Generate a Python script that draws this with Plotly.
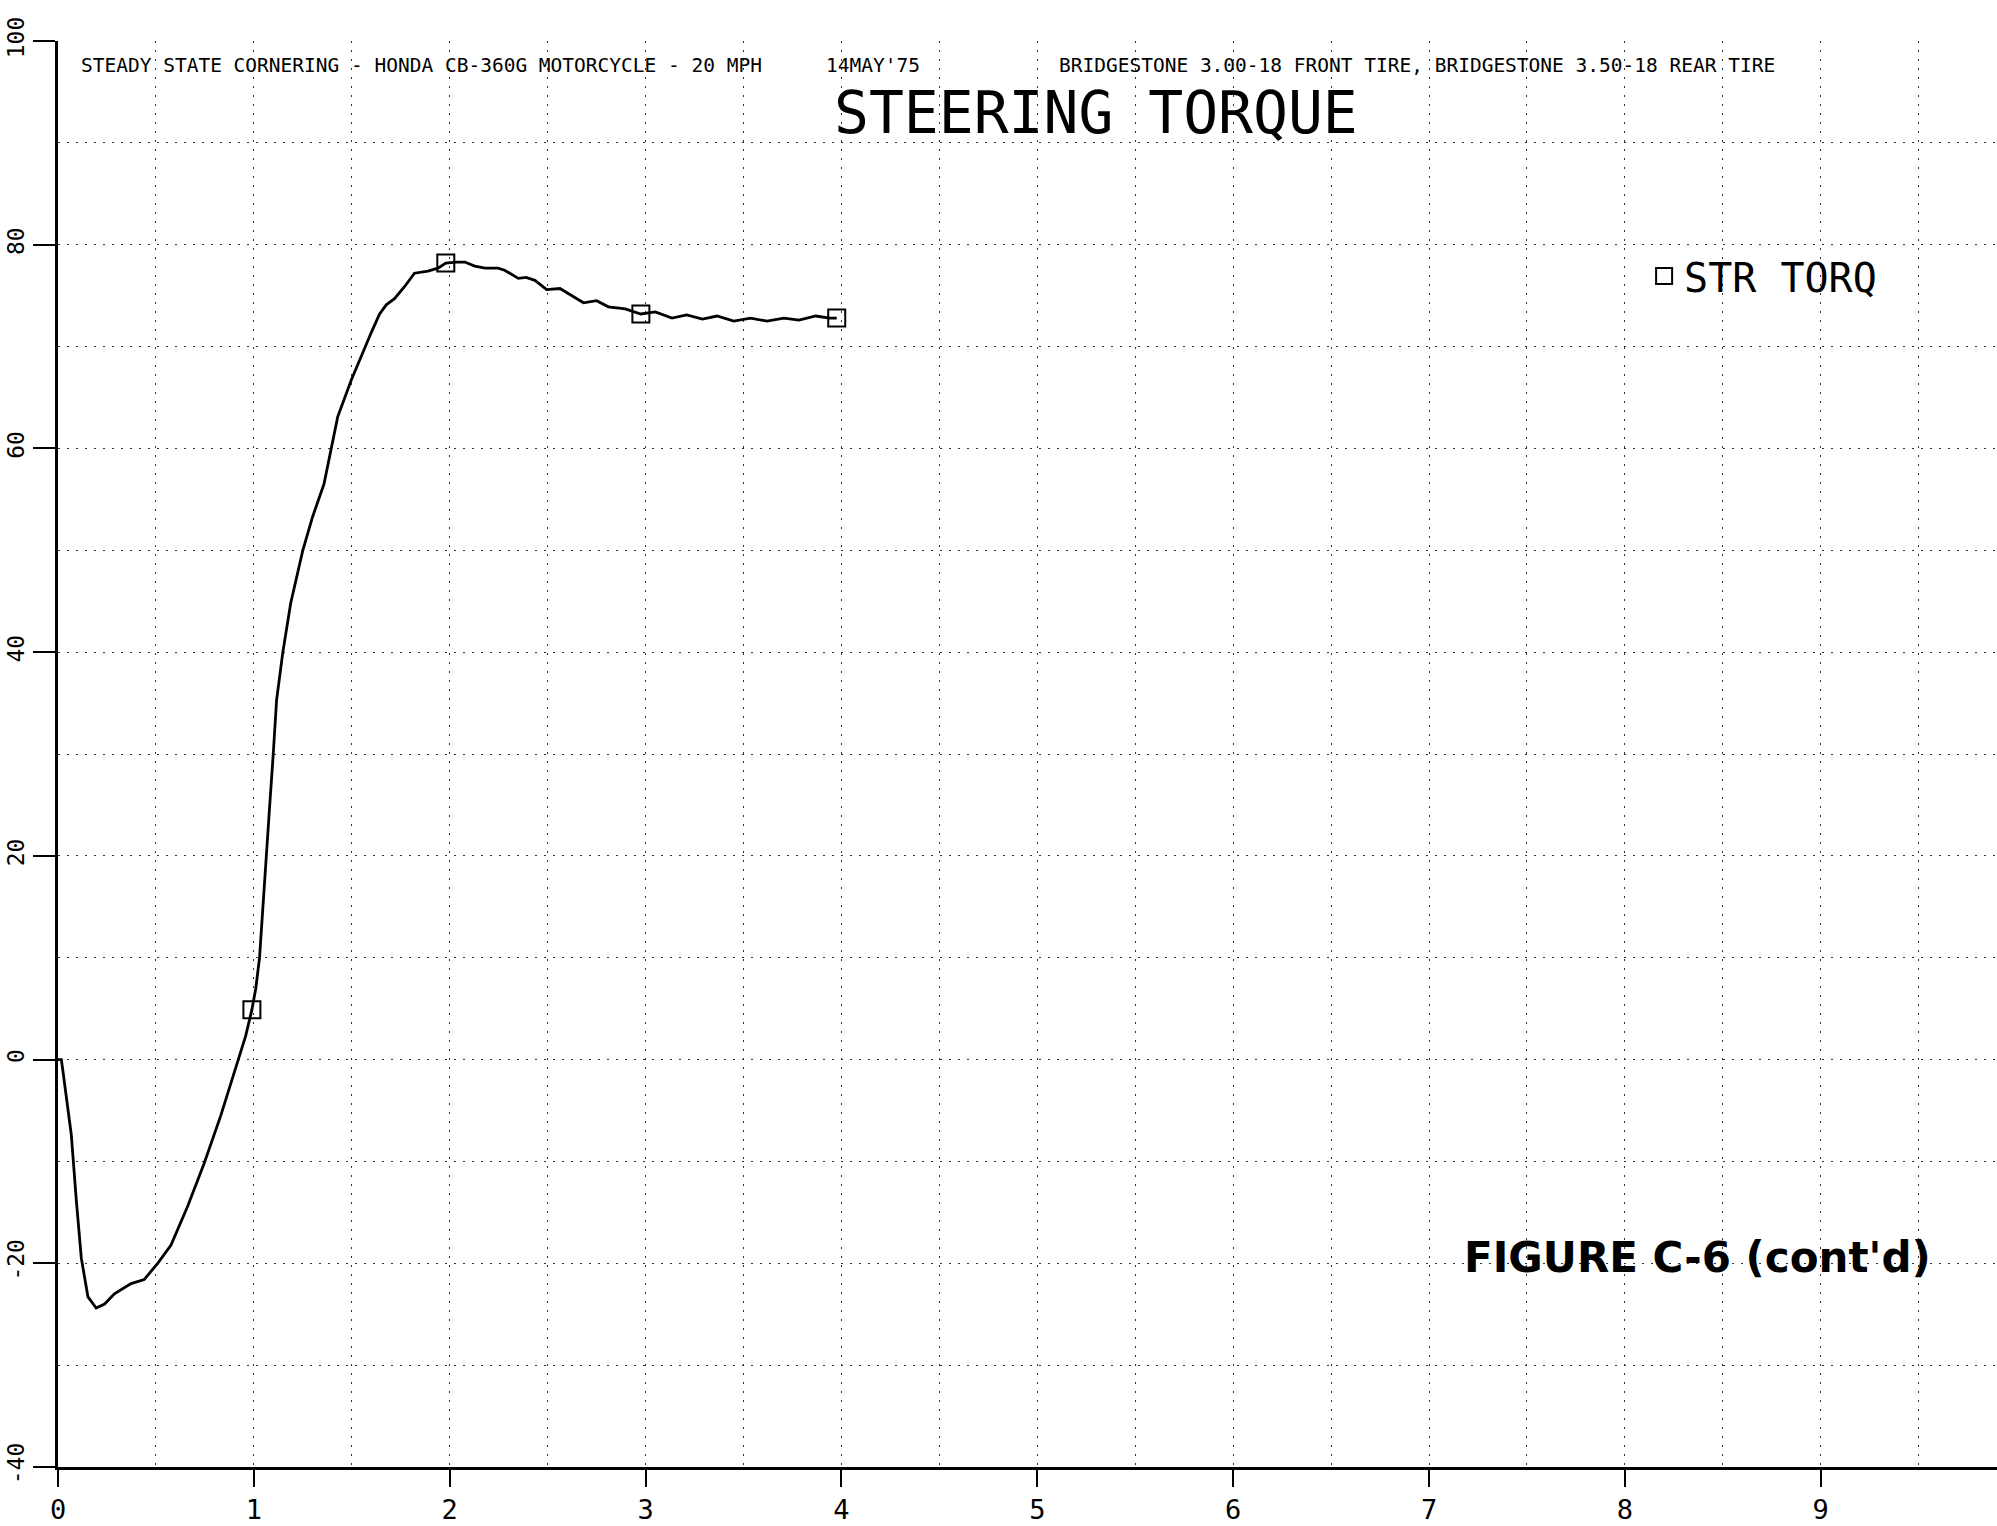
import plotly.graph_objects as go

# ---- data ----
time_s = [0.0, 0.017, 0.025, 0.045, 0.068, 0.093, 0.119, 0.153, 0.195, 0.238,
          0.288, 0.373, 0.44, 0.509, 0.577, 0.662, 0.746, 0.831, 0.916, 0.958,
          0.99, 1.01, 1.029, 1.048, 1.063, 1.08, 1.099, 1.116, 1.148, 1.188,
          1.25, 1.30, 1.358, 1.428, 1.497, 1.565, 1.6, 1.642, 1.676, 1.718,
          1.77, 1.82, 1.889, 1.94, 1.98, 2.034, 2.077, 2.128, 2.18, 2.247,
          2.28, 2.35, 2.39, 2.435, 2.495, 2.563, 2.623, 2.683, 2.75, 2.81,
          2.896, 2.976, 3.05, 3.135, 3.21, 3.29, 3.365, 3.45, 3.536, 3.62,
          3.706, 3.783, 3.869, 3.94, 3.976]
torque = [0.0, 0.0, -1.1, -4.2, -7.4, -13.7, -19.5, -23.3, -24.4, -24.0,
          -23.0, -22.0, -21.6, -20.0, -18.2, -14.4, -10.2, -5.5, -0.2, 2.3,
          4.9, 7.0, 10.0, 15.9, 20.0, 24.7, 30.0, 35.3, 40.0, 44.8,
          50.0, 53.3, 56.5, 63.1, 66.7, 69.9, 71.4, 73.2, 74.1, 74.7,
          75.9, 77.2, 77.4, 77.7, 78.2, 78.3, 78.3, 77.9, 77.7, 77.7,
          77.5, 76.7, 76.8, 76.5, 75.6, 75.7, 75.0, 74.3, 74.5, 73.9,
          73.7, 73.2, 73.4, 72.8, 73.1, 72.7, 73.0, 72.5, 72.8, 72.5,
          72.8, 72.6, 73.0, 72.8, 72.8]
marker_time = [0.99, 1.98, 2.976, 3.976]
marker_torque = [4.9, 78.2, 73.2, 72.8]

x_ticks = [0, 1, 2, 3, 4, 5, 6, 7, 8, 9]
y_ticks = [-40, -20, 0, 20, 40, 60, 80, 100]

header_left = "STEADY STATE CORNERING - HONDA CB-360G MOTORCYCLE - 20 MPH"
header_date = "14MAY'75"
header_right = "BRIDGESTONE 3.00-18 FRONT TIRE, BRIDGESTONE 3.50-18 REAR TIRE"
title_text = "STEERING TORQUE"
legend_name = "STR TORQ"
figure_label = "FIGURE C-6 (cont'd)"

MONO = "DejaVu Sans Mono, Liberation Mono, monospace"
GRID = "#333333"
GRIDDASH = "2px,7px"

fig = go.Figure()
fig.add_trace(go.Scatter(x=time_s, y=torque, mode="lines",
                         line=dict(color="black", width=2.8),
                         showlegend=False, hoverinfo="skip"))
fig.add_trace(go.Scatter(x=marker_time, y=marker_torque, mode="markers",
                         name=legend_name,
                         marker=dict(symbol="square-open", size=17, color="black",
                                     line=dict(width=2, color="black")),
                         showlegend=True))

fig.update_layout(
    width=1997, height=1526,
    margin=dict(l=58, r=0, t=41, b=59),
    paper_bgcolor="white", plot_bgcolor="white",
    font=dict(family=MONO, color="black"),
    showlegend=True,
    legend=dict(x=0.818, y=0.858, xanchor="left", yanchor="top",
                bgcolor="rgba(0,0,0,0)", borderwidth=0,
                font=dict(family=MONO, size=40, color="black"),
                itemsizing="trace"),
)

fig.update_xaxes(
    range=[0, 9.9], tickmode="array", tickvals=x_ticks,
    ticktext=[str(v) for v in x_ticks],
    ticks="outside", ticklen=17, tickwidth=2, tickcolor="black",
    tickfont=dict(family=MONO, size=27, color="black"),
    showline=True, linewidth=3, linecolor="black",
    showgrid=True, gridcolor=GRID, gridwidth=1.2, griddash=GRIDDASH,
    minor=dict(tickmode="linear", tick0=0, dtick=0.5, showgrid=True,
               gridcolor=GRID, gridwidth=1.2, griddash=GRIDDASH, ticks=""),
    zeroline=False, automargin=False,
)
fig.update_yaxes(
    range=[-40, 100], tickmode="array", tickvals=y_ticks,
    ticktext=[str(v) for v in y_ticks],
    ticks="outside", ticklen=22, tickwidth=2, tickcolor="black",
    tickangle=-90,
    tickfont=dict(family=MONO, size=23, color="black"),
    showline=True, linewidth=3, linecolor="black",
    showgrid=True, gridcolor=GRID, gridwidth=1.2, griddash=GRIDDASH,
    minor=dict(tickmode="linear", tick0=0, dtick=10, showgrid=True,
               gridcolor=GRID, gridwidth=1.2, griddash=GRIDDASH, ticks=""),
    zeroline=False, automargin=False,
)

anns = [
    dict(text=header_left, x=0.0108, y=0.9825, xanchor="left", yanchor="middle",
         font=dict(family=MONO, size=19.5, color="black")),
    dict(text=header_date, x=0.395, y=0.9825, xanchor="left", yanchor="middle",
         font=dict(family=MONO, size=19.5, color="black")),
    dict(text=header_right, x=0.5152, y=0.9825, xanchor="left", yanchor="middle",
         font=dict(family=MONO, size=19.5, color="black")),
    dict(text=title_text, x=0.5353, y=0.9495, xanchor="center", yanchor="middle",
         font=dict(family=MONO, size=58, color="black")),
    dict(text="<b>" + figure_label + "</b>", x=0.8453, y=0.1466,
         xanchor="center", yanchor="middle",
         font=dict(family="DejaVu Sans, sans-serif", size=42, color="black")),
]
for a in anns:
    a.update(xref="paper", yref="paper", showarrow=False)
fig.update_layout(annotations=anns)

# remove the browser's default 8px page margin so the figure fills the window
fig.write_html("out.html",
               config={"displayModeBar": False},
               post_script="document.body.style.margin='0';"
                           "document.body.style.overflow='hidden';")
